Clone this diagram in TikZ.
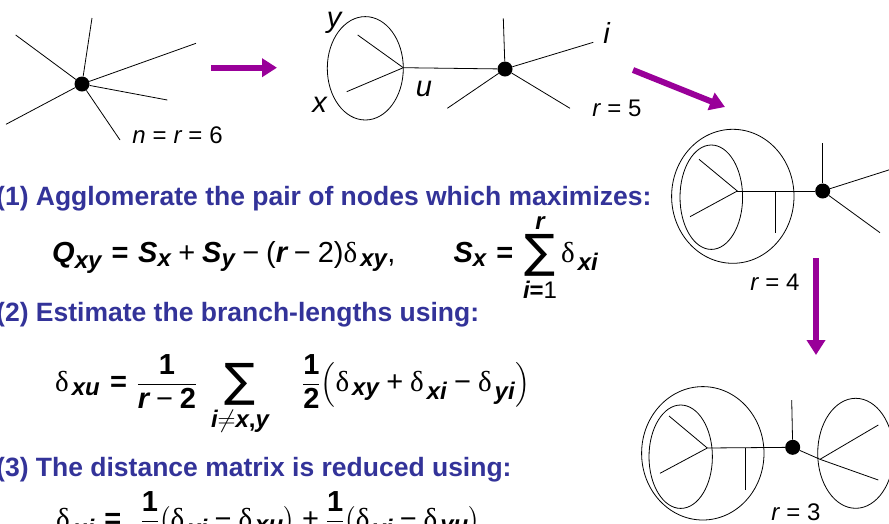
\documentclass[tikz,border=0pt]{standalone}
\usepackage{fontspec}
\usepackage{amsmath}
\usepackage{graphicx}
\setmainfont{Liberation Sans}
\newfontfamily\dfont{Liberation Serif}
\newfontfamily\sumfont{DejaVu Sans}
\usetikzlibrary{arrows.meta}
\definecolor{arrowpurple}{RGB}{153,0,153}
\definecolor{headblue}{RGB}{51,51,153}
\DeclareMathSizes{29}{29}{24}{19}
\DeclareMathSizes{24}{24}{19}{15}
\newcommand\V[1]{\text{\bfseries\itshape #1}}
\newcommand\Dl{\text{\dfont δ}}
\newcommand\Eq{\mathrel{\text{\bfseries =}}}
\newcommand\TEq{\mathrel{\text{=}}}
\newcommand\Pl{\mathbin{\text{+}}}
\newcommand\Mi{\mathbin{\text{−}}}
\newcommand\Tx[1]{\text{#1}}
\newcommand\BigSum{\mathop{\vcenter{\hbox{\sumfont\fontsize{46}{46}\selectfont ∑}}}\limits}
\newcommand\Bo[1]{\text{\bfseries #1}}
\newcommand\Sb[1]{{\kern3pt #1}}
\tikzset{
  edge/.style={line width=0.8pt},
  dot/.style={circle,fill=black,inner sep=0pt,minimum size=15pt},
  junc/.style={inner sep=0pt,minimum size=0pt},
  ring/.style={line width=0.8pt},
  bigarrow/.style={line width=6pt,arrowpurple,-{Triangle[width=18pt,length=15pt]}},
  lab/.style={font=\fontsize{29}{32}\selectfont\itshape,anchor=base,inner sep=0pt},
  rlab/.style={font=\fontsize{24}{28}\selectfont,anchor=base,inner sep=0pt},
  head/.style={font=\fontsize{26.5}{30}\selectfont\bfseries,text=headblue,anchor=base west,inner sep=0pt},
  formula/.style={font=\fontsize{29}{32}\selectfont,anchor=base west,inner sep=0pt,
    execute at begin node={\thickmuskip=7mu\medmuskip=5mu}}
}
\begin{document}
\begin{tikzpicture}[x=1pt,y=-1pt]
\useasboundingbox (0,0) rectangle (889,523);
\clip (0,0) rectangle (889,523);
% ---- star, n = r = 6
\node[dot] (c1) at (82,84) {};
\coordinate (a1) at (92,18);
\coordinate (a2) at (15.7,35);
\coordinate (a3) at (196,43.3);
\coordinate (a4) at (167.3,100);
\coordinate (a5) at (120,140);
\coordinate (a6) at (6,124.3);
\foreach \p in {a1,a2,a3,a4,a5,a6} \draw[edge] (c1) -- (\p);
\node[rlab] (n6) at (177.5,143) {$\text{\itshape n} \TEq \text{\itshape r} \TEq \text{6}$};
% ---- arrow 1
\coordinate (ar1s) at (211,67.7);
\coordinate (ar1e) at (277,67.7);
\draw[bigarrow] (ar1s) -- (ar1e);
% ---- tree r = 5
\draw[ring] (365.3,68.3) ellipse [x radius=38pt, y radius=51.7pt];
\node[junc] (u) at (403.3,67.7) {};
\coordinate (b1) at (357.7,35);
\coordinate (b2) at (346.7,91.7);
\draw[edge] (u.center) -- (b1);
\draw[edge] (u.center) -- (b2);
\node[dot] (c2) at (505,69) {};
\draw[edge] (u.center) -- (c2);
\coordinate (d1) at (503.3,18.3);
\coordinate (d2) at (593.3,42.3);
\coordinate (d3) at (570,108.3);
\coordinate (d4) at (447.3,108.3);
\foreach \p in {d1,d2,d3,d4} \draw[edge] (c2) -- (\p);
\node[lab] (ly) at (334,27) {y};
\node[lab] (lx) at (319.7,112.7) {x};
\node[lab] (lu) at (424,96.7) {u};
\node[lab] (li) at (606.7,43.3) {i};
\node[rlab] (r5) at (617,116.7) {$\text{\itshape r} \TEq \text{5}$};
% ---- arrow 2
\coordinate (ar2s) at (633,70);
\coordinate (ar2e) at (725,107);
\draw[bigarrow] (ar2s) -- (ar2e);
% ---- tree r = 4
\draw[ring] (732.8,196.3) ellipse [x radius=61.2pt, y radius=67pt];
\draw[ring] (711.3,197.2) ellipse [x radius=31.3pt, y radius=52.2pt];
\node[junc] (v) at (737.3,191) {};
\coordinate (e1) at (699,159.3);
\coordinate (e2) at (690,216.7);
\draw[edge] (v.center) -- (e1);
\draw[edge] (v.center) -- (e2);
\node[dot] (c3) at (822.7,191) {};
\draw[edge] (v.center) -- (c3);
\coordinate (t1a) at (775.3,191);
\coordinate (t1b) at (775.3,232.7);
\draw[edge] (t1a) -- (t1b);
\coordinate (f1) at (822.7,143.3);
\coordinate (f2) at (895,168);
\coordinate (f3) at (880,232.7);
\foreach \p in {f1,f2,f3} \draw[edge] (c3) -- (\p);
\node[rlab] (r4) at (775,290) {$\text{\itshape r} \TEq \text{4}$};
% ---- arrow 3
\coordinate (ar3s) at (816,258);
\coordinate (ar3e) at (816,355);
\draw[bigarrow] (ar3s) -- (ar3e);
% ---- tree r = 3
\draw[ring] (702.8,453.3) ellipse [x radius=61.2pt, y radius=66.7pt];
\draw[ring] (680.7,456.7) ellipse [x radius=31.7pt, y radius=51.7pt];
\node[junc] (w) at (707.3,448) {};
\coordinate (g1) at (669,416);
\coordinate (g2) at (660,473.3);
\draw[edge] (w.center) -- (g1);
\draw[edge] (w.center) -- (g2);
\node[dot] (c4) at (792.7,447.3) {};
\draw[edge] (w.center) -- (c4);
\coordinate (t2a) at (745,448);
\coordinate (t2b) at (745,490);
\draw[edge] (t2a) -- (t2b);
\coordinate (h1) at (791.7,400);
\draw[edge] (c4) -- (h1);
\node[junc] (z) at (820,459.3) {};
\draw[edge] (c4) -- (z.center);
\coordinate (k1) at (878.3,425);
\coordinate (k2) at (878.3,480);
\draw[edge] (z.center) -- (k1);
\draw[edge] (z.center) -- (k2);
\draw[ring] (855.7,453.3) ellipse [x radius=38pt, y radius=55pt];
\node[rlab] (r3) at (796,520) {$\text{\itshape r} \TEq \text{3}$};
% ---- texts
\node[head] (h1t) at (-4,205) {(1) Agglomerate the pair of nodes which maximizes:};
\node[formula] (f1t) at (52,262) {$\displaystyle \V{Q}_{\V{xy}} \Eq \V{S}_{\V{x}} \Pl \V{S}_{\V{y}} \Mi \Tx{(}\V{r} \Mi \Tx{2)}\Dl_{\Sb{\V{xy}}}\Tx{,}\qquad \V{S}_{\V{x}} \Eq \BigSum_{\V{i}\Bo{=}\Tx{1}}^{\V{r}} \Dl_{\Sb{\V{xi}}}$};
\node[head] (h2t) at (-4,321) {(2) Estimate the branch-lengths using:};
\node[formula] (f2t) at (55,391) {$\displaystyle \Dl_{\Sb{\V{xu}}} \Eq \frac{\Bo{1}}{\V{r}\Mi\Bo{2}}\;\BigSum_{\V{i}\neq\V{x}\Bo{,}\V{y}}\quad\frac{\Bo{1}}{\Bo{2}}\!\left(\Dl_{\Sb{\V{xy}}} \Pl \Dl_{\Sb{\V{xi}}} \Mi \Dl_{\Sb{\V{yi}}}\right)$};
\node[head] (h3t) at (-4,476) {(3) The distance matrix is reduced using:};
\node[formula] (f3t) at (56,528) {$\displaystyle \Dl_{\Sb{\V{ui}}} \Eq\; \frac{\Bo{1}}{\Bo{2}}\bigl(\Dl_{\Sb{\V{xi}}} \Mi \Dl_{\Sb{\V{xu}}}\bigr) \Pl \frac{\Bo{1}}{\Bo{2}}\bigl(\Dl_{\Sb{\V{yi}}} \Mi \Dl_{\Sb{\V{yu}}}\bigr)$};
\end{tikzpicture}
\end{document}
